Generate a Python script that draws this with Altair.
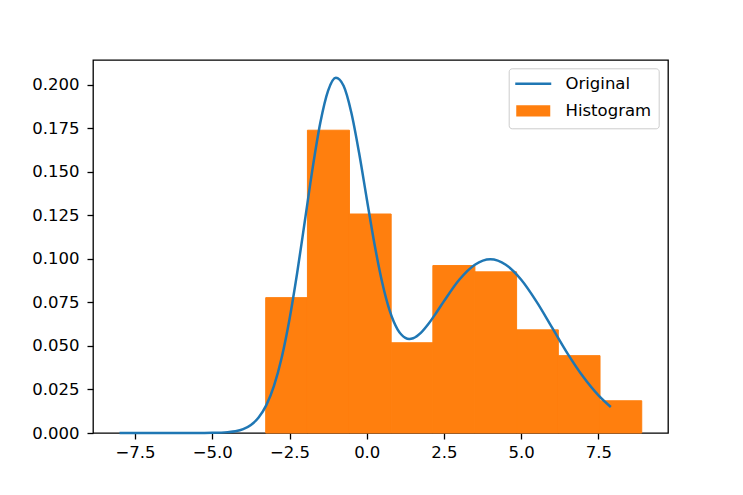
import altair as alt
import pandas as pd

# Histogram (density)
bin_edges = [-3.27, -1.92, -0.56, 0.79, 2.14, 3.50, 4.85, 6.20, 7.55, 8.90]
bin_heights = [0.0777, 0.1738, 0.1257, 0.0518, 0.0961, 0.0925, 0.0592, 0.0444, 0.0185]

# "Original" curve, values
line_x = [-8.0, -7.0, -6.0, -5.5, -5.0, -4.5, -4.25, -4.0, -3.75, -3.5, -3.25, -3.0, -2.75, -2.5, -2.25, -2.0,
          -1.75, -1.5, -1.25, -1.0, -0.75, -0.5, -0.25, 0.0, 0.25, 0.5, 0.75, 1.0, 1.125,
          1.25, 1.375, 1.5, 1.75, 2.0, 2.25, 2.5, 3.0, 3.5, 4.0, 4.5, 5.0, 5.5, 6.0, 6.5, 7.0, 7.5, 7.9]
line_y = [0.0, 0.0, 0.0, 0.0, 0.0001, 0.0005, 0.0010, 0.0022, 0.0046, 0.0089, 0.0160, 0.0272, 0.0435, 0.0653, 0.0921, 0.1221,
          0.1522, 0.1783, 0.1965, 0.2039, 0.1993, 0.1840, 0.1610, 0.1345, 0.1085, 0.0864, 0.0698, 0.0594, 0.0564,
          0.0546, 0.0540, 0.0544, 0.0575, 0.0627, 0.0690, 0.0757, 0.0881, 0.0966, 0.0997, 0.0966, 0.0880, 0.0753, 0.0605, 0.0456, 0.0324, 0.0216, 0.0149]

x_ticks = [-7.5, -5.0, -2.5, 0.0, 2.5, 5.0, 7.5]
y_ticks = [0.0, 0.025, 0.05, 0.075, 0.1, 0.125, 0.15, 0.175, 0.2]
series_names = ["Original", "Histogram"]
series_colors = ["#1f77b4", "#ff7f0e"]
x_domain = [-8.86, 9.75]
y_domain = [0.0, 0.2141]

hist_df = pd.DataFrame({"x0": bin_edges[:-1], "x1": bin_edges[1:], "h": bin_heights,
                        "series": ["Histogram"] * len(bin_heights)})
line_df = pd.DataFrame({"x": line_x, "y": line_y, "series": ["Original"] * len(line_x)})

FONT = "DejaVu Sans"
FS = 16.5

xscale = alt.Scale(domain=x_domain, nice=False, zero=False)
yscale = alt.Scale(domain=y_domain, nice=False, zero=False)

xaxis = alt.Axis(values=x_ticks, format=".1f", title=None, grid=False, domain=False,
                 tickColor="black", tickSize=6, tickWidth=1.3, labelFontSize=FS,
                 labelColor="black", labelPadding=5, labelFont=FONT)
yaxis = alt.Axis(values=y_ticks, format=".3f", title=None, grid=False, domain=False,
                 tickColor="black", tickSize=6, tickWidth=1.3, labelFontSize=FS,
                 labelColor="black", labelPadding=8, labelFont=FONT)

legend = alt.Legend(
    title=None, orient="none", legendX=415.7, legendY=8.3,
    symbolType=alt.ExprRef(expr="datum.value == 'Original' ? 'M-3,0H3' : 'M-2.625,-0.73H2.625V0.73H-2.625Z'"),
    symbolFillColor=alt.ExprRef(expr="datum.value == 'Original' ? 'transparent' : '#ff7f0e'"),
    symbolStrokeColor=alt.ExprRef(expr="datum.value == 'Original' ? '#1f77b4' : '#ff7f0e'"),
    symbolSize=144, symbolStrokeWidth=2.5, symbolOffset=9, labelOffset=24,
    labelFontSize=FS, labelFont=FONT, labelColor="black", labelExpr="datum.label + ' '",
    padding=7.3, rowPadding=8, strokeColor="#cccccc", cornerRadius=3, fillColor="white",
)

color = alt.Color("series:N", scale=alt.Scale(domain=series_names, range=series_colors), legend=legend)

bars = alt.Chart(hist_df).mark_rect(stroke="#ff7f0e", strokeWidth=1).encode(
    x=alt.X("x0:Q", scale=xscale, axis=xaxis),
    x2="x1:Q",
    y=alt.Y("h:Q", scale=yscale, axis=yaxis),
    y2=alt.datum(0),
    color=color,
)

line = alt.Chart(line_df).mark_line(strokeWidth=2.5, interpolate="monotone").encode(
    x=alt.X("x:Q", scale=xscale, axis=xaxis),
    y=alt.Y("y:Q", scale=yscale, axis=yaxis),
    color=color,
)

chart = alt.layer(bars, line).properties(
    width=575, height=373,
    autosize=alt.AutoSizeParams(type="none"),
    padding={"left": 85, "top": 52, "right": 60, "bottom": 50},
).configure_view(stroke="black", strokeWidth=1.3)

chart.save("out.html", embed_options={"renderer": "svg", "actions": False})
